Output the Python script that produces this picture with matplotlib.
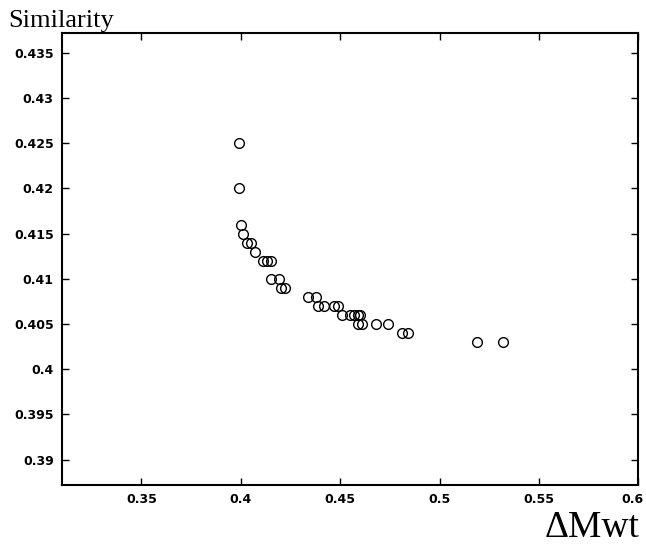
import numpy as np
import matplotlib
matplotlib.use("Agg")
import matplotlib.pyplot as plt
import matplotlib.transforms as mtransforms

# values
delta_mwt = [0.399, 0.399, 0.400, 0.401, 0.403, 0.405, 0.407, 0.411, 0.413, 0.415,
             0.415, 0.419, 0.420, 0.422, 0.434, 0.438, 0.439, 0.442, 0.447, 0.449,
             0.451, 0.455, 0.457, 0.459, 0.460, 0.459, 0.461, 0.468, 0.474, 0.481,
             0.484, 0.519, 0.532]
similarity = [0.425, 0.420, 0.416, 0.415, 0.414, 0.414, 0.413, 0.412, 0.412, 0.412,
              0.410, 0.410, 0.409, 0.409, 0.408, 0.408, 0.407, 0.407, 0.407, 0.407,
              0.406, 0.406, 0.406, 0.406, 0.406, 0.405, 0.405, 0.405, 0.405, 0.404,
              0.404, 0.403, 0.403]

x_ticks = [0.35, 0.4, 0.45, 0.5, 0.55, 0.6]
x_tick_labels = ["0.35", "0.4", "0.45", "0.5", "0.55", "0.6"]
y_ticks = [0.39, 0.395, 0.4, 0.405, 0.41, 0.415, 0.42, 0.425, 0.43, 0.435]
y_tick_labels = ["0.39", "0.395", "0.4", "0.405", "0.41", "0.415", "0.42", "0.425", "0.43", "0.435"]

fig = plt.figure(figsize=(6.46, 5.48), dpi=100)
ax = fig.add_axes([0.096, 0.115, 0.892, 0.825])

ax.plot(delta_mwt, similarity, linestyle="none", marker="o", markersize=7,
        markerfacecolor="none", markeredgecolor="black", markeredgewidth=1.0)

ax.set_xlim(0.31, 0.6)
ax.set_ylim(0.3872, 0.4372)
ax.set_xticks(x_ticks)
ax.set_xticklabels(x_tick_labels)
ax.set_yticks(y_ticks)
ax.set_yticklabels(y_tick_labels)
ax.tick_params(direction="in", length=5, width=1, top=True, right=True,
               labelsize=9, pad=6)
for lbl in ax.get_xticklabels() + ax.get_yticklabels():
    lbl.set_fontweight("bold")

# last x label sits a bit left of its tick so it stays inside the picture
last = ax.get_xticklabels()[-1]
last.set_transform(last.get_transform() +
                   mtransforms.ScaledTranslation(-6 / 100, 0, fig.dpi_scale_trans))

for sp in ax.spines.values():
    sp.set_linewidth(1.5)

# axis names sit outside the frame, like the original
fig.text(0.012, 0.95, "Similarity", family="Liberation Serif", fontsize=19,
         ha="left", va="baseline")
fig.text(0.99, 0.006, "\u0394Mwt", family="Liberation Serif", fontsize=27,
         ha="right", va="bottom")

fig.savefig("out.png", dpi=100)
